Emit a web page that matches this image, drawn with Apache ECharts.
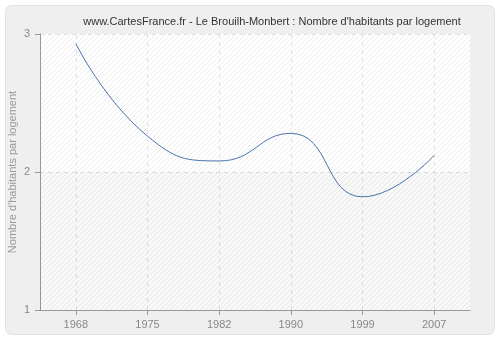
<!DOCTYPE html>
<html><head><meta charset="utf-8">
<script src="https://cdn.jsdelivr.net/npm/echarts@6/dist/echarts.min.js"></script>
<style>html,body{margin:0;padding:0;background:#fff}#c{width:500px;height:340px}</style>
</head><body><div id="c"></div>
<script>
const years = ['1968','1975','1982','1990','1999','2007'];
const values = [2.93, 2.26, 2.08, 2.28, 1.82, 2.12];
const yTicks = [1, 2, 3];

function hatch(){
  const n = 5;
  const c = document.createElement('canvas');
  c.width = n; c.height = n;
  const g = c.getContext('2d');
  g.fillStyle = '#ffffff'; g.fillRect(0,0,n,n);
  g.fillStyle = '#ececec';
  for (let i = 0; i < n; i++) g.fillRect(i, n-1-i, 1, 1);
  return c;
}

const chart = echarts.init(document.getElementById('c'), null, {renderer:'canvas'});
chart.setOption({
  backgroundColor: '#fff',
  animation: false,
  graphic: [{
    type: 'rect', z: -10, silent: true,
    shape: {x: 5.5, y: 5.5, width: 489, height: 329, r: 6},
    style: {fill: '#efefef', stroke: '#e2e2e2', lineWidth: 1}
  }],
  title: {
    text: "www.CartesFrance.fr - Le Brouilh-Monbert : Nombre d'habitants par logement",
    left: 267, top: 11, textAlign: 'center',
    textStyle: {fontFamily: 'Liberation Sans', fontSize: 11, fontWeight: 'normal', color: '#333'}
  },
  grid: {left: 40, right: 30, top: 34, bottom: 30, show: true, containLabel: false,
    outerBoundsMode: 'none',
    backgroundColor: {image: hatch(), repeat: 'repeat'}, borderWidth: 0},
  xAxis: {
    type: 'value', min: -0.5, max: years.length - 0.5,
    axisLine: {onZero: false, lineStyle: {color: '#999'}},
    axisTick: {length: 5, lineStyle: {color: '#999'}, customValues: years.map((y, i) => i)},
    axisLabel: {color: '#888', fontFamily: 'Liberation Sans', fontSize: 11, margin: 9,
      customValues: years.map((y, i) => i), formatter: v => years[v]},
    splitLine: {show: true, lineStyle: {color: '#e0e0e0', type: [4,4]}}
  },
  yAxis: {
    type: 'value', min: yTicks[0], max: yTicks[yTicks.length-1], interval: 1,
    name: "Nombre d'habitants par logement", nameLocation: 'middle', nameGap: 22,
    nameMoveOverlap: false,
    nameTextStyle: {color: '#999', fontFamily: 'Liberation Sans', fontSize: 11},
    axisLine: {show: true, onZero: false, lineStyle: {color: '#999'}},
    axisTick: {show: true, length: 5, lineStyle: {color: '#999'}},
    axisLabel: {color: '#888', fontFamily: 'Liberation Sans', fontSize: 11, margin: 10},
    splitLine: {show: true, lineStyle: {color: '#e0e0e0', type: [4,4]}}
  },
  series: [{
    type: 'line', data: values.map((v, i) => [i, v]), smooth: 0.5, symbol: 'none',
    lineStyle: {color: '#4a74ab', width: 1},
    markArea: {silent: true, itemStyle: {color: 'rgba(0,0,0,0.025)'},
      data: [[{yAxis: yTicks[0]}, {yAxis: yTicks[1]}]]}
  }]
});
</script></body></html>
